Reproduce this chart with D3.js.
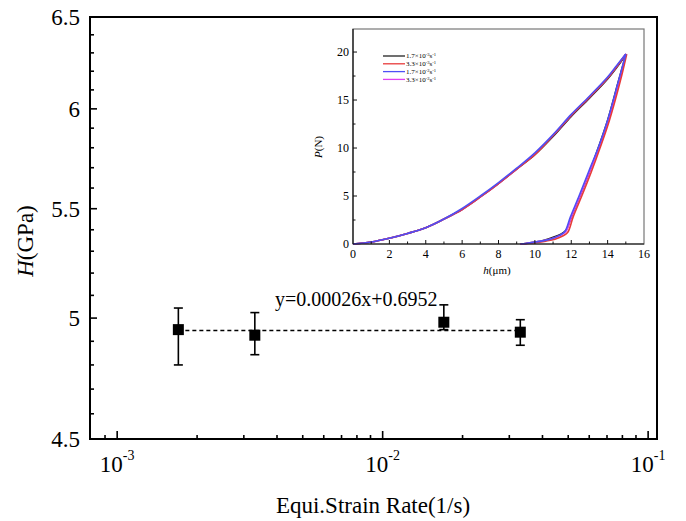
<!DOCTYPE html>
<html>
<head>
<meta charset="utf-8">
<script src="https://cdn.jsdelivr.net/npm/d3@7"></script>
<style>
  body { margin: 0; background: #fff; }
  svg, svg text { font-family: "Liberation Serif", "Times New Roman", serif; }
</style>
</head>
<body>
<div id="chart"></div>
<script>
// datos del grafico principal
const strainRate = [0.0017, 0.0033, 0.017, 0.033];
const hardness = [4.95, 4.926, 4.982, 4.939];
const errLow = [4.80, 4.843, 4.95, 4.883];
const errHigh = [5.044, 5.024, 5.058, 4.993];
const fitX = [0.0017, 0.033];
const fitY = [4.946, 4.946];
const fitLabel = "y=0.00026x+0.6952";
const yTickLabels = ["4.5", "5", "5.5", "6", "6.5"];
const xTickExp = ["-3", "-2", "-1"];

// datos del inset (carga / descarga)
const rateNames = [
  ["1.7", "-3"],
  ["3.3", "-3"],
  ["1.7", "-2"],
  ["3.3", "-2"]
];
const rateColors = ["#222222", "#e83a3a", "#4f4ff5", "#e040f0"];
const hLoad = [0, 1, 2, 3, 4, 5, 6, 7, 8, 9, 10, 11, 12, 13, 14, 14.5, 15];
const pLoad = [
  [0, 0.2, 0.6, 1.1, 1.7, 2.6, 3.6, 4.9, 6.3, 7.8, 9.3, 11.2, 13.3, 15.2, 17.2, 18.4, 19.7],
  [0, 0.2, 0.6, 1.1, 1.7, 2.6, 3.6, 4.9, 6.3, 7.8, 9.3, 11.3, 13.4, 15.3, 17.3, 18.5, 19.8],
  [0, 0.2, 0.6, 1.1, 1.7, 2.6, 3.7, 5.0, 6.4, 7.9, 9.5, 11.4, 13.5, 15.4, 17.4, 18.6, 19.8],
  [0, 0.2, 0.6, 1.1, 1.7, 2.6, 3.6, 4.9, 6.3, 7.8, 9.4, 11.3, 13.4, 15.3, 17.3, 18.5, 19.8]
];
const hUnload = [
  [15, 14.6, 14, 13.5, 13, 12.5, 12, 11.7, 11.4, 11, 10.5, 10, 9.5, 9.2],
  [15.05, 14.7, 14.1, 13.6, 13.1, 12.6, 12.1, 11.8, 11.5, 11.1, 10.6, 10.1, 9.6, 9.2],
  [15, 14.6, 14, 13.5, 12.95, 12.45, 11.95, 11.65, 11.35, 11, 10.5, 10, 9.5, 9.2],
  [15, 14.65, 14.05, 13.55, 13.0, 12.5, 12.0, 11.7, 11.4, 11, 10.5, 10, 9.5, 9.2]
];
const pUnload = [
  [19.7, 17.0, 12.9, 10.1, 7.5, 5.1, 2.8, 1.4, 1.0, 0.7, 0.4, 0.2, 0.05, 0],
  [19.8, 17.0, 12.9, 10.1, 7.5, 5.1, 2.8, 1.2, 0.8, 0.5, 0.3, 0.15, 0.05, 0],
  [19.8, 17.0, 12.9, 10.1, 7.5, 5.1, 2.8, 1.3, 0.9, 0.6, 0.35, 0.2, 0.05, 0],
  [19.8, 17.0, 12.9, 10.1, 7.5, 5.1, 2.8, 1.3, 0.9, 0.6, 0.35, 0.2, 0.05, 0]
];

const width = 686;
const height = 521;
const plot = { left: 90, right: 657, top: 17, bottom: 439 };

const svg = d3.select("#chart")
  .append("svg")
  .attr("width", width)
  .attr("height", height)
  .attr("viewBox", [0, 0, width, height]);

// escalas
const x = d3.scaleLog().domain([7.9e-4, 0.108]).range([plot.left, plot.right]);
const y = d3.scaleLog().domain([4.5, 6.5]).range([plot.bottom, plot.top]);

// ticks del eje y (hacia adentro)
const yTicks = d3.range(45, 66).map((d) => d / 10);
svg.append("g")
  .selectAll("line")
  .data(yTicks)
  .join("line")
  .attr("x1", plot.left)
  .attr("x2", (d) => plot.left + (Math.round(d * 10) % 5 === 0 ? 7 : 4))
  .attr("y1", (d) => y(d))
  .attr("y2", (d) => y(d))
  .attr("stroke", "#000")
  .attr("stroke-width", 1.6);

svg.append("g")
  .selectAll("text")
  .data(yTickLabels)
  .join("text")
  .attr("x", 80)
  .attr("y", (d) => y(+d))
  .attr("dy", "0.35em")
  .attr("text-anchor", "end")
  .style("font-size", "23px")
  .text((d) => d);

// ticks del eje x
const xTicks = [];
[1e-4, 1e-3, 1e-2].forEach((base) => {
  for (let k = 1; k <= 9; k++) xTicks.push(base * k);
});
xTicks.push(0.1);
svg.append("g")
  .selectAll("line")
  .data(xTicks.filter((d) => x(d) > plot.left + 2 && x(d) < plot.right - 2))
  .join("line")
  .attr("x1", (d) => x(d))
  .attr("x2", (d) => x(d))
  .attr("y1", plot.bottom)
  .attr("y2", (d) => {
    const major = Math.abs(Math.log10(d) - Math.round(Math.log10(d))) < 1e-6;
    return plot.bottom - (major ? 8 : 4);
  })
  .attr("stroke", "#000")
  .attr("stroke-width", 1.6);

const xLab = svg.append("g")
  .selectAll("text")
  .data(xTickExp)
  .join("text")
  .attr("x", (d) => x(Math.pow(10, +d)))
  .attr("y", 472)
  .attr("text-anchor", "middle")
  .style("font-size", "23px");
xLab.append("tspan").text("10");
xLab.append("tspan")
  .attr("dy", -12)
  .style("font-size", "14px")
  .text((d) => d);

// marco principal
svg.append("rect")
  .attr("x", plot.left)
  .attr("y", plot.top)
  .attr("width", plot.right - plot.left)
  .attr("height", plot.bottom - plot.top)
  .attr("fill", "none")
  .attr("stroke", "#000")
  .attr("stroke-width", 2);

// titulos de ejes
svg.append("text")
  .attr("x", 373)
  .attr("y", 513)
  .attr("text-anchor", "middle")
  .style("font-size", "23px")
  .text("Equi.Strain Rate(1/s)");

const yTitle = svg.append("text")
  .attr("transform", "translate(33,241) rotate(-90)")
  .attr("text-anchor", "middle")
  .style("font-size", "23px");
yTitle.append("tspan").style("font-style", "italic").text("H");
yTitle.append("tspan").text("(GPa)");

// linea de ajuste
svg.append("line")
  .attr("x1", x(fitX[0]))
  .attr("x2", x(fitX[1]))
  .attr("y1", y(fitY[0]))
  .attr("y2", y(fitY[1]))
  .attr("stroke", "#000")
  .attr("stroke-width", 1.5)
  .attr("stroke-dasharray", "4,3");

svg.append("text")
  .attr("x", 275)
  .attr("y", 306)
  .style("font-size", "20px")
  .text(fitLabel);

// barras de error y puntos
const pts = svg.append("g")
  .selectAll("g")
  .data(strainRate)
  .join("g");

pts.append("line")
  .attr("x1", (d) => x(d))
  .attr("x2", (d) => x(d))
  .attr("y1", (d, i) => y(errLow[i]))
  .attr("y2", (d, i) => y(errHigh[i]))
  .attr("stroke", "#000")
  .attr("stroke-width", 1.6);

[errLow, errHigh].forEach((arr) => {
  pts.append("line")
    .attr("x1", (d) => x(d) - 4.5)
    .attr("x2", (d) => x(d) + 4.5)
    .attr("y1", (d, i) => y(arr[i]))
    .attr("y2", (d, i) => y(arr[i]))
    .attr("stroke", "#000")
    .attr("stroke-width", 1.6);
});

pts.append("rect")
  .attr("x", (d) => x(d) - 5.5)
  .attr("y", (d, i) => y(hardness[i]) - 5.5)
  .attr("width", 11)
  .attr("height", 11)
  .attr("fill", "#000");

// ---------- inset ----------
const ins = { left: 353, right: 644, top: 29, bottom: 244 };
const ix = d3.scaleLinear().domain([0, 16]).range([ins.left, ins.right]);
const iy = d3.scaleLinear().domain([0, 22.4]).range([ins.bottom, ins.top]);

const inset = svg.append("g").attr("class", "inset");

inset.append("rect")
  .attr("x", ins.left)
  .attr("y", ins.top)
  .attr("width", ins.right - ins.left)
  .attr("height", ins.bottom - ins.top)
  .attr("fill", "#fff")
  .attr("stroke", "#777")
  .attr("stroke-width", 1.2);

// curvas
const line = d3.line()
  .x((d) => ix(d[0]))
  .y((d) => iy(d[1]))
  .curve(d3.curveCatmullRom.alpha(0.5));

[0, 3, 1, 2].forEach((s) => {
  const loadPts = hLoad.map((h, i) => [h, pLoad[s][i]]);
  const unloadPts = hUnload[s].map((h, i) => [h, pUnload[s][i]]);
  inset.append("path")
    .attr("d", line(loadPts))
    .attr("fill", "none")
    .attr("stroke", rateColors[s])
    .attr("stroke-width", 1.6);
  inset.append("path")
    .attr("d", line(unloadPts))
    .attr("fill", "none")
    .attr("stroke", rateColors[s])
    .attr("stroke-width", 1.6);
});

// ejes del inset
inset.append("line")
  .attr("x1", ins.left).attr("x2", ins.right)
  .attr("y1", ins.bottom).attr("y2", ins.bottom)
  .attr("stroke", "#111").attr("stroke-width", 1.2);
inset.append("line")
  .attr("x1", ins.left).attr("x2", ins.left)
  .attr("y1", ins.bottom).attr("y2", ins.top)
  .attr("stroke", "#111").attr("stroke-width", 1.2);

inset.append("g")
  .selectAll("line")
  .data(d3.range(1, 16))
  .join("line")
  .attr("x1", (d) => ix(d))
  .attr("x2", (d) => ix(d))
  .attr("y1", ins.bottom)
  .attr("y2", (d) => ins.bottom - (d % 2 === 0 ? 4 : 2.5))
  .attr("stroke", "#111")
  .attr("stroke-width", 1);

inset.append("g")
  .selectAll("line")
  .data(d3.range(2.5, 22.5, 2.5))
  .join("line")
  .attr("x1", ins.left)
  .attr("x2", (d) => ins.left + (d % 5 === 0 ? 4 : 2.5))
  .attr("y1", (d) => iy(d))
  .attr("y2", (d) => iy(d))
  .attr("stroke", "#111")
  .attr("stroke-width", 1);

inset.append("g")
  .selectAll("text")
  .data(d3.range(0, 17, 2))
  .join("text")
  .attr("x", (d) => ix(d))
  .attr("y", ins.bottom + 14)
  .attr("text-anchor", "middle")
  .style("font-size", "12px")
  .text((d) => d);

inset.append("g")
  .selectAll("text")
  .data(d3.range(0, 21, 5))
  .join("text")
  .attr("x", ins.left - 4)
  .attr("y", (d) => iy(d))
  .attr("dy", "0.35em")
  .attr("text-anchor", "end")
  .style("font-size", "12px")
  .text((d) => d);

const hTitle = inset.append("text")
  .attr("x", 497)
  .attr("y", 274)
  .attr("text-anchor", "middle")
  .style("font-size", "11px");
hTitle.append("tspan").style("font-style", "italic").text("h");
hTitle.append("tspan").text("(μm)");

const pTitle = inset.append("text")
  .attr("transform", "translate(322,147) rotate(-90)")
  .attr("text-anchor", "middle")
  .style("font-size", "11px");
pTitle.append("tspan").style("font-style", "italic").text("P");
pTitle.append("tspan").text("(N)");

// leyenda del inset
const leg = inset.append("g")
  .selectAll("g")
  .data(rateNames)
  .join("g")
  .attr("transform", (d, i) => `translate(383,${56 + i * 7.8})`);

leg.append("line")
  .attr("x1", 0)
  .attr("x2", 22)
  .attr("stroke", (d, i) => rateColors[i])
  .attr("stroke-width", 1.3);

const legText = leg.append("text")
  .attr("x", 23)
  .attr("dy", "0.33em")
  .style("font-size", "7px");
legText.append("tspan").text((d) => `${d[0]}×10`);
legText.append("tspan").attr("dy", -2).style("font-size", "4.5px").text((d) => d[1]);
legText.append("tspan").attr("dy", 2).text("s");
legText.append("tspan").attr("dy", -2).style("font-size", "4.5px").text("-1");
</script>
</body>
</html>
